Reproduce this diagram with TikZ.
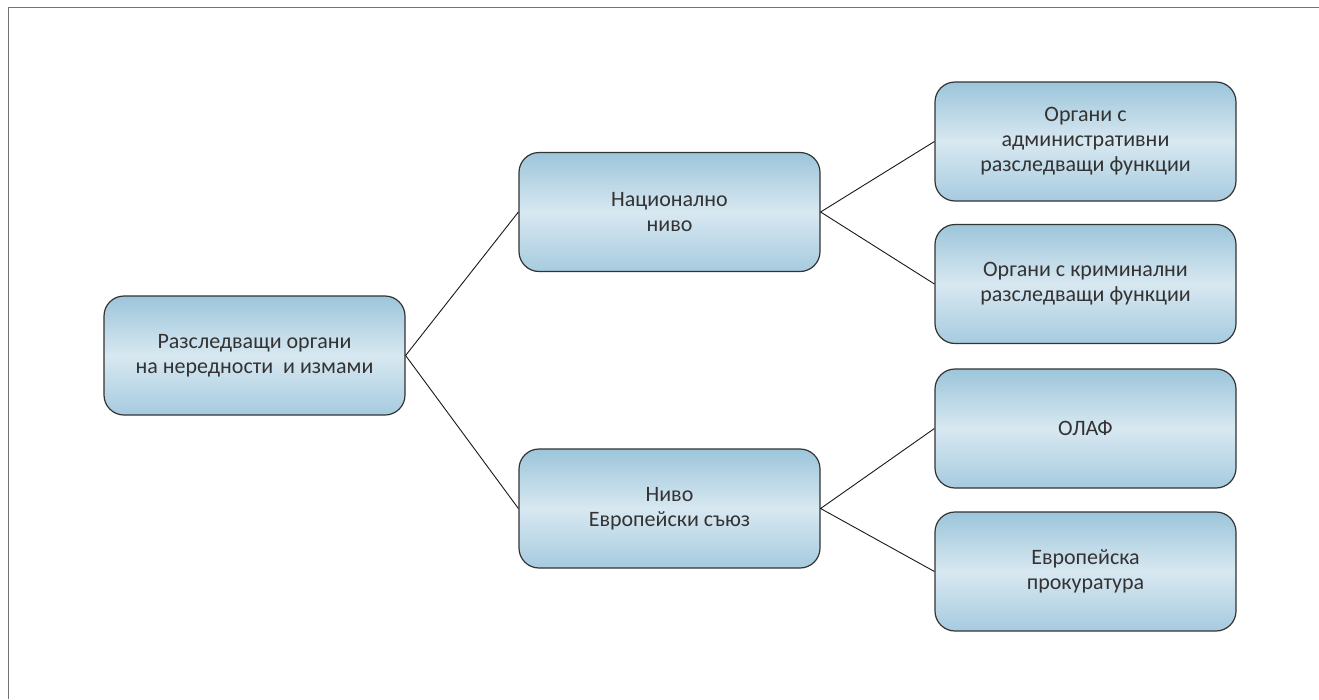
\documentclass[tikz,border=0pt]{standalone}
\usepackage{fontspec}
\setmainfont{Carlito}
\begin{document}
\begin{tikzpicture}[x=1pt,y=-1pt,
  box/.style={draw=black!80, line width=1.2pt, rounded corners=20pt,
    minimum width=301pt, minimum height=119pt, align=center,
    top color=boxdark, bottom color=boxbot, middle color=boxlight,
    font=\fontsize{22}{25}\selectfont, text=black!80, inner sep=0pt},
  conn/.style={draw=black!90, line width=0.9pt}]
\definecolor{boxdark}{HTML}{9CC5DA}
\definecolor{boxlight}{HTML}{D8E8F1}
\definecolor{boxbot}{HTML}{A6CBDF}
\useasboundingbox (0,0) rectangle (1319,699);
\fill[white] (0,0) rectangle (1319,699);
\draw[black!55, line width=1.6pt] (8.5,699) -- (8.5,7.5) -- (1319,7.5);
\node[box] (root) at (254.5,355.5) {Разследващи органи\\на нередности\ \ и измами};
\node[box] (nat) at (669.5,212) {Национално\\ниво};
\node[box] (eu) at (669.5,508.5) {Ниво\\Европейски съюз};
\node[box] (a1) at (1085.5,141.5) {Органи с\\административни\\разследващи функции};
\node[box] (a2) at (1085.5,284) {Органи с криминални\\разследващи функции};
\node[box] (a3) at (1085.5,428.5) {ОЛАФ};
\node[box] (a4) at (1085.5,571.5) {Европейска\\прокуратура};
\draw[conn] (nat.west) -- (root.east) -- (eu.west);
\draw[conn] (a1.west) -- (nat.east) -- (a2.west);
\draw[conn] (a3.west) -- (eu.east) -- (a4.west);
\end{tikzpicture}
\end{document}
